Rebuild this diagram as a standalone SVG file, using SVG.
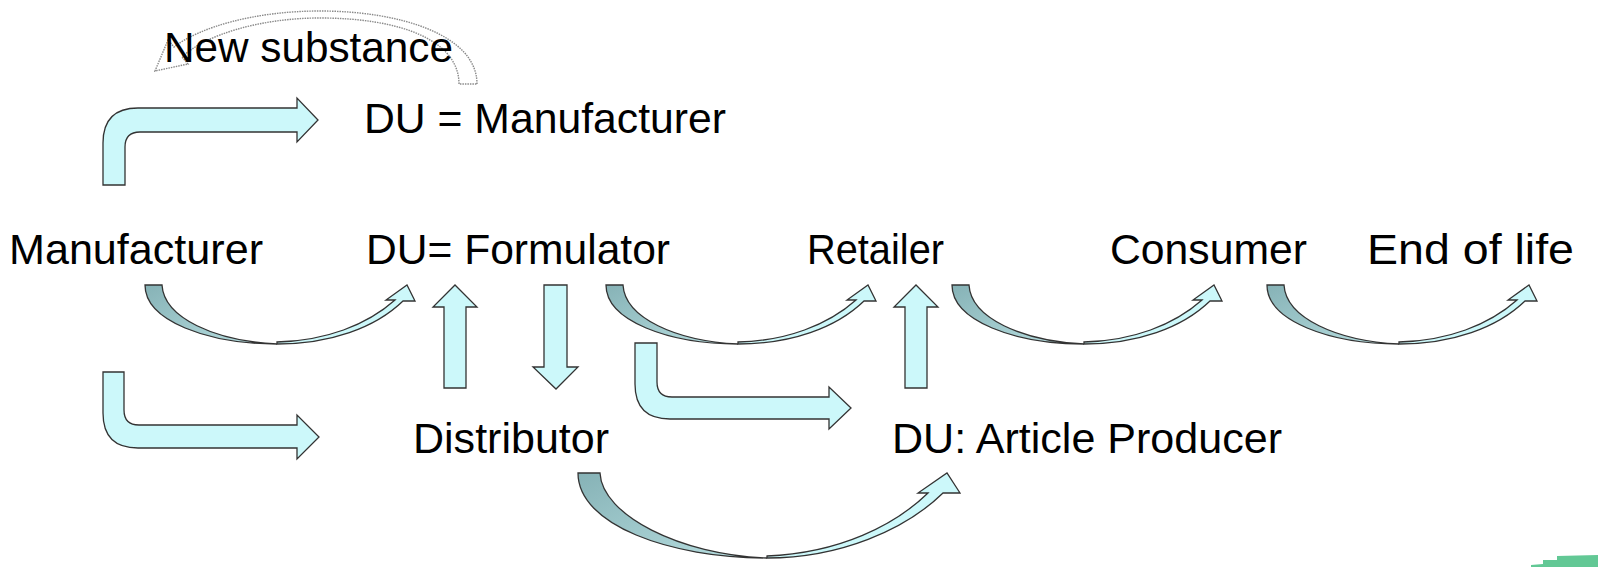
<svg xmlns="http://www.w3.org/2000/svg" width="1598" height="567" viewBox="0 0 1598 567">
<style>
  .lbl { font-family: "Liberation Sans", Arial, sans-serif; font-size: 43px; fill: #000; }
  .blk { fill: #ccf8fa; stroke: #333; stroke-width: 1.3; stroke-linejoin: miter; }
  .back { fill: url(#backGrad); stroke: #333; stroke-width: 1.3; }
  .ghost { fill: none; stroke: #8a8a8a; stroke-width: 1.4; stroke-dasharray: 1.5 1; }
</style>
<defs>
  <linearGradient id="backGrad" x1="0" y1="0" x2="1" y2="1">
    <stop offset="0" stop-color="#86b2b6"/>
    <stop offset="1" stop-color="#b8dfe1"/>
  </linearGradient>
  <g id="curvedArrow">
    <path class="back" d="M 0,0 C 0,36 63,59 132,59 C 70,56 19,33 17,0 Z"/>
    <path class="blk" d="M 132,59 C 185,59 230,43 258,16 L 270,16 L 262,0 L 241,15 L 250,15 C 222,40 180,56 132,57 Z"/>
  </g>
</defs>

<g id="connectors">
  <!-- New substance ghost arrow -->
  <path class="ghost" d="M 477,84 C 477,35 400,11 320,11 C 255,11 200,27 174,47 L 168,40 L 155,71 L 188,64 L 182,57 C 205,35 260,18 320,18 C 400,18 459,40 459,84 Z"/>
  <!-- bent arrow to DU = Manufacturer -->
  <path class="blk" d="M 103,185 L 103,143 Q 103,108 138,108 L 297,108 L 297,98 L 318,120 L 297,142 L 297,132 L 140,132 Q 125,132 125,147 L 125,185 Z"/>
  <!-- bent arrow to Distributor -->
  <path class="blk" d="M 103,372 L 124,372 L 124,410 Q 124,425 139,425 L 297,425 L 297,415 L 319,437 L 297,459 L 297,448 L 138,448 Q 103,448 103,413 Z"/>
  <!-- bent arrow Formulator to Article Producer -->
  <path class="blk" d="M 635,343 L 657,343 L 657,382 Q 657,397 672,397 L 829,397 L 829,387 L 851,408 L 829,429 L 829,419 L 670,419 Q 635,419 635,384 Z"/>
  <!-- up arrow Distributor to Formulator -->
  <path class="blk" d="M 444,388 L 444,307 L 433,307 L 455,285 L 477,307 L 466,307 L 466,388 Z"/>
  <!-- down arrow Formulator to Distributor -->
  <path class="blk" d="M 544,285 L 567,285 L 567,367 L 578,367 L 556,389 L 533,367 L 544,367 Z"/>
  <!-- up arrow Article Producer to Retailer -->
  <path class="blk" d="M 905,388 L 905,307 L 894,307 L 916,285 L 938,307 L 927,307 L 927,388 Z"/>
  <!-- curved arrows on the main row -->
  <use href="#curvedArrow" transform="translate(145,285)"/>
  <use href="#curvedArrow" transform="translate(606,285)"/>
  <use href="#curvedArrow" transform="translate(952,285)"/>
  <use href="#curvedArrow" transform="translate(1267,285)"/>
  <!-- big curved arrow Distributor to Article Producer -->
  <path class="back" d="M 578,473 C 578,525 670,558 767,558 C 680,555 602,515 600,473 Z"/>
  <path class="blk" d="M 767,558 C 840,558 905,530 943,493 L 960,493 L 947,473 L 918,493 L 928,493 C 895,525 840,553 767,556 Z"/>
</g>

<g id="node-new-substance"><text class="lbl" x="164" y="62" textLength="289" lengthAdjust="spacingAndGlyphs">New substance</text></g>
<g id="node-du-manufacturer"><text class="lbl" x="364" y="133" textLength="362" lengthAdjust="spacingAndGlyphs">DU = Manufacturer</text></g>
<g id="node-manufacturer"><text class="lbl" x="9" y="264" textLength="254" lengthAdjust="spacingAndGlyphs">Manufacturer</text></g>
<g id="node-du-formulator"><text class="lbl" x="366" y="264" textLength="304" lengthAdjust="spacingAndGlyphs">DU= Formulator</text></g>
<g id="node-retailer"><text class="lbl" x="807" y="264" textLength="137" lengthAdjust="spacingAndGlyphs">Retailer</text></g>
<g id="node-consumer"><text class="lbl" x="1110" y="264" textLength="197" lengthAdjust="spacingAndGlyphs">Consumer</text></g>
<g id="node-end-of-life"><text class="lbl" x="1367" y="264" textLength="207" lengthAdjust="spacingAndGlyphs">End of life</text></g>
<g id="node-distributor"><text class="lbl" x="413" y="453" textLength="196" lengthAdjust="spacingAndGlyphs">Distributor</text></g>
<g id="node-du-article-producer"><text class="lbl" x="892" y="453" textLength="390" lengthAdjust="spacingAndGlyphs">DU: Article Producer</text></g>

<path id="corner-mark" d="M 1531,567 L 1531,565 L 1543,564 L 1543,560 L 1557,560 L 1557,556 L 1598,555 L 1598,567 Z" fill="#62c895"/>
</svg>
